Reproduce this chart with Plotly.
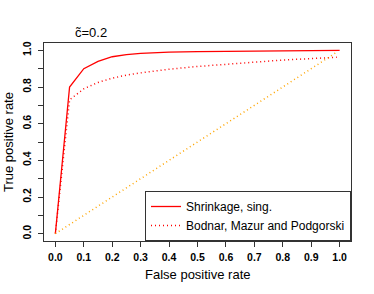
import plotly.graph_objects as go

# Data
fpr_shrink = [0, 0.05, 0.1, 0.15, 0.2, 0.25, 0.3, 0.35, 0.4, 0.5, 0.6, 0.7, 0.8, 0.9, 1.0]
tpr_shrink = [0, 0.80, 0.90, 0.94, 0.965, 0.977, 0.983, 0.988, 0.990, 0.993, 0.995, 0.996, 0.997, 0.998, 1.0]

fpr_bodnar = [0, 0.05, 0.1, 0.15, 0.2, 0.25, 0.3, 0.35, 0.4, 0.5, 0.6, 0.7, 0.8, 0.9, 0.99]
tpr_bodnar = [0, 0.73, 0.79, 0.825, 0.848, 0.865, 0.877, 0.888, 0.897, 0.912, 0.925, 0.937, 0.947, 0.955, 0.962]

fpr_random = [0, 0.99]
tpr_random = [0, 0.99]

x_ticks = [0.0, 0.1, 0.2, 0.3, 0.4, 0.5, 0.6, 0.7, 0.8, 0.9, 1.0]
x_labels = ["0.0", "0.1", "0.2", "0.3", "0.4", "0.5", "0.6", "0.7", "0.8", "0.9", "1.0"]
y_ticks = [0.0, 0.1, 0.2, 0.3, 0.4, 0.5, 0.6, 0.7, 0.8, 0.9, 1.0]
y_labels = ["0.0", "", "0.2", "", "0.4", "", "0.6", "", "0.8", "", "1.0"]

FONT = "Liberation Sans, Arial, Helvetica, sans-serif"
DOT = "1px,3px"

fig = go.Figure()
fig.add_trace(go.Scatter(x=fpr_shrink, y=tpr_shrink, mode="lines", name="Shrinkage, sing.",
                         line=dict(color="#ff0000", width=1.3)))
fig.add_trace(go.Scatter(x=fpr_bodnar, y=tpr_bodnar, mode="lines", name="Bodnar, Mazur and Podgorski",
                         line=dict(color="#ff0000", width=1.5, dash=DOT)))
fig.add_trace(go.Scatter(x=fpr_random, y=tpr_random, mode="lines", showlegend=False,
                         line=dict(color="#ffa500", width=1.5, dash=DOT)))

axis_common = dict(showgrid=False, zeroline=False, showline=True, linecolor="#333333",
                   linewidth=1, mirror=True, ticks="outside", ticklen=5, tickcolor="#333333",
                   automargin=False,
                   tickfont=dict(family=FONT, size=10.5, color="black", weight="bold"))

fig.update_xaxes(range=[-0.04, 1.04], tickvals=x_ticks, ticktext=x_labels,
                 ticklabelstandoff=1, **axis_common)
fig.update_yaxes(range=[-0.04, 1.04], tickvals=y_ticks, ticktext=y_labels, tickangle=-90,
                 ticklabelstandoff=3, **axis_common)

# Title and axis titles
fig.add_annotation(text="c\u0303=0.2", xref="paper", yref="paper", x=0.153, y=1.0,
                   xanchor="center", yanchor="bottom", yshift=1, showarrow=False,
                   font=dict(family=FONT, size=13, color="black"))
fig.add_annotation(text="False positive rate", xref="paper", yref="paper", x=0.5, y=0,
                   xanchor="center", yanchor="middle", yshift=-33, showarrow=False,
                   font=dict(family=FONT, size=13, color="black"))
fig.add_annotation(text="True positive rate", xref="paper", yref="paper", x=0, y=0.5,
                   xanchor="center", yanchor="middle", xshift=-36, textangle=-90, showarrow=False,
                   font=dict(family=FONT, size=13, color="black"))

fig.update_layout(
    width=374, height=294,
    margin=dict(l=44, r=23, t=43, b=53),
    plot_bgcolor="white", paper_bgcolor="white",
    showlegend=True,
    legend=dict(x=1, y=0, xanchor="right", yanchor="bottom", bgcolor="white",
                bordercolor="#333333", borderwidth=1,
                font=dict(family=FONT, size=12, color="black"),
                tracegroupgap=0, itemwidth=30),
)

fig.write_html("out.html", config={"displayModeBar": False},
               post_script="document.body.style.margin='0';")
